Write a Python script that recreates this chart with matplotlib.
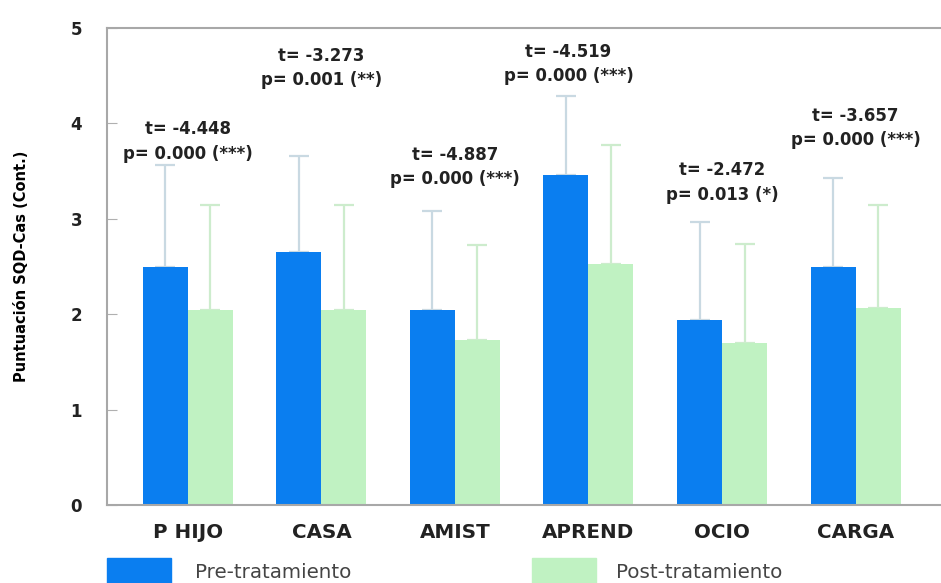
import matplotlib.pyplot as plt
from matplotlib.patches import Rectangle
import numpy as np

# Subescalas y puntuaciones medias (con desviación típica)
categorias = ['P HIJO', 'CASA', 'AMIST', 'APREND', 'OCIO', 'CARGA']
media_pre = [2.49, 2.65, 2.04, 3.46, 1.94, 2.49]
dt_pre = [1.07, 1.01, 1.04, 0.83, 1.03, 0.94]
media_post = [2.04, 2.04, 1.73, 2.53, 1.70, 2.06]
dt_post = [1.10, 1.10, 1.00, 1.24, 1.04, 1.08]

# Resultados de la prueba t para cada subescala
t_valores = ['-4.448', '-3.273', '-4.887', '-4.519', '-2.472', '-3.657']
p_valores = ['0.000 (***)', '0.001 (**)', '0.000 (***)', '0.000 (***)', '0.013 (*)', '0.000 (***)']
pos_texto_x = [0.0, 1.0, 2.0, 2.85, 4.0, 5.0]
pos_texto_y = [3.81, 4.58, 3.54, 4.62, 3.38, 3.95]

azul = '#0a7ef0'
verde = '#c0f2c2'

fig = plt.figure(figsize=(9.41, 5.83), dpi=100)
ax = fig.add_axes([107 / 941, 78 / 583, 1 - 107 / 941, 477 / 583])

x = np.arange(len(categorias))
ancho = 0.337

ax.errorbar(x - ancho / 2, media_pre, yerr=[np.zeros(len(x)), dt_pre], fmt='none',
            ecolor='#c9d9e2', elinewidth=1.6, capsize=7, capthick=1.6, zorder=1)
ax.errorbar(x + ancho / 2, media_post, yerr=[np.zeros(len(x)), dt_post], fmt='none',
            ecolor='#cdeccd', elinewidth=1.6, capsize=7, capthick=1.6, zorder=1)
ax.bar(x - ancho / 2, media_pre, ancho, color=azul, zorder=2)
ax.bar(x + ancho / 2, media_post, ancho, color=verde, zorder=2)

for xt, yt, t, p in zip(pos_texto_x, pos_texto_y, t_valores, p_valores):
    ax.text(xt, yt, f't= {t}\np= {p}', ha='center', va='center', fontsize=11.9,
            fontweight='bold', color='#222222', linespacing=1.45)

ax.set_xlim(-0.606, 5.64)
ax.set_ylim(0, 5)
ax.set_xticks(x)
ax.set_xticklabels(categorias, fontsize=14.3, fontweight='bold', color='#222222')
ax.set_yticks(range(6))
ax.set_yticklabels([str(v) for v in range(6)], fontsize=12, fontweight='bold', color='#222222')
ax.tick_params(axis='x', length=0, pad=13)
ax.tick_params(axis='y', direction='in', length=7, color='#b0b0b0', pad=18)
ax.set_ylabel('Puntuación SQD-Cas (Cont.)', fontsize=10.5, fontweight='bold', labelpad=30)

for lado in ['left', 'bottom', 'top']:
    ax.spines[lado].set_color('#a8a8a8')
    ax.spines[lado].set_linewidth(1.5)
ax.spines['right'].set_visible(False)

# Leyenda dibujada a mano bajo el eje
fig.patches.append(Rectangle((107 / 941, 0), 64 / 941, 25 / 583, transform=fig.transFigure,
                             color=azul, figure=fig))
fig.patches.append(Rectangle((532 / 941, 0), 64 / 941, 25 / 583, transform=fig.transFigure,
                             color=verde, figure=fig))
fig.text(195 / 941, 10.5 / 583, 'Pre-tratamiento', fontsize=14.3, color='#444444', va='center')
fig.text(616 / 941, 10.5 / 583, 'Post-tratamiento', fontsize=14.3, color='#444444', va='center')

fig.savefig('out.png', dpi=100)
